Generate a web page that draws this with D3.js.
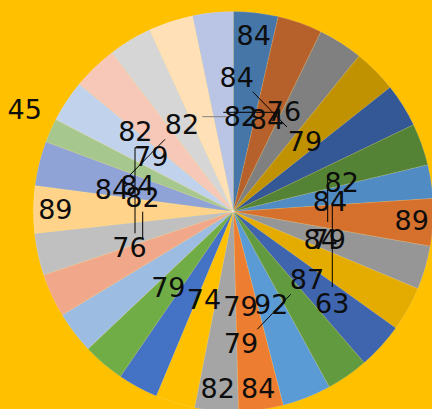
<!DOCTYPE html>
<html>
<head>
<meta charset="utf-8">
<script src="https://cdn.jsdelivr.net/npm/d3@7/dist/d3.min.js"></script>
<style>
  html, body { margin: 0; padding: 0; background: #FFC000; }
  svg { display: block; }
</style>
</head>
<body>
<div id="chart"></div>
<script>
// ---- data (slices clockwise from 12 o'clock) ----
const categories = d3.range(1, 30).map(i => "P" + i);
const values = [84, 84, 84, 82, 82, 79, 63, 89, 82, 84, 87, 79, 92, 84, 82, 74, 76, 79, 79, 82, 79, 89, 84, 45, 79, 84, 82, 84, 76];
const colors = [
  "#4676A8", "#B6612B", "#808080", "#C09100", "#335895", "#558335",
  "#508BC4", "#D6712D", "#969696", "#E4AB00", "#3E65AE", "#629A40",
  "#5B9BD5", "#ED7D31", "#A5A5A5", "#FFC000", "#4472C4", "#70AD47",
  "#9DBCE2", "#F1A88A", "#C0C0C0", "#FFD38A", "#8FA3D6", "#A6C78E",
  "#C1D2EC", "#F7C8B8", "#D6D6D6", "#FFE0B7", "#BAC5E5"
];

// ---- label layout ("best fit" placement seen in the reference), as offsets from the pie centre in radius units ----
const labelOffsets = [
  [0.1025, -0.884], [0.1685, -0.4625], [0.017, -0.674], [0.0375, -0.4775], [0.542, -0.149], [0.3585, -0.3525],
  [0.495, 0.4575], [0.892, 0.044], [-0.454, -0.074], [0.437, 0.1375], [0.3685, 0.3375], [0.477, 0.1375],
  [0.19, 0.4625], [0.125, 0.884], [-0.078, 0.884], [-0.1465, 0.4375], [-0.519, 0.18], [-0.325, 0.38],
  [0.036, 0.4725], [-0.49, -0.4015], [0.0385, 0.6575], [-0.89, -0.0135], [-0.6065, -0.1125], [-1.043, -0.514],
  [-0.4105, -0.275], [-0.479, -0.1325], [-0.2565, -0.435], [0.4835, -0.0525], [0.2535, -0.5025]
];
// leader lines, in the same radius units
const leaders = [
  { pts: [[0.097, -0.599], [0.2685, -0.4225]], color: "#000" },
  { pts: [[-0.05, -0.496], [0.225, -0.496]], color: "#000" },
  { pts: [[-0.155, -0.474], [-0.033, -0.474]], color: "#808080" },
  { pts: [[0.472, -0.1675], [0.472, 0.0525]], color: "#000" },
  { pts: [[0.495, -0.0325], [0.495, 0.3775]], color: "#000" },
  { pts: [[0.287, 0.414], [0.12, 0.589]], color: "#000" },
  { pts: [[-0.4465, -0.319], [-0.4915, -0.319], [-0.4915, 0.109]], color: "#000" },
  { pts: [[-0.453, 0.001], [-0.453, 0.139]], color: "#000" },
  { pts: [[-0.525, -0.174], [-0.3415, -0.361]], color: "#000" }
];

const W = 432, H = 409;
const cx = 233.3, cy = 211.5, R = 200;
const fontSize = 27;

const svg = d3.select("#chart").append("svg")
  .attr("width", W).attr("height", H);

svg.append("rect").attr("width", W).attr("height", H).attr("fill", "#FFC000");

const g = svg.append("g").attr("transform", `translate(${cx},${cy})`);

const data = categories.map((c, i) => ({ cat: c, value: values[i], color: colors[i], off: labelOffsets[i] }));

const pie = d3.pie().sort(null).value(d => d.value).startAngle(0).endAngle(2 * Math.PI);
const arc = d3.arc().innerRadius(0).outerRadius(R);

g.selectAll("path.slice").data(pie(data)).join("path")
  .attr("class", "slice")
  .attr("d", arc)
  .attr("fill", d => d.data.color)
  .attr("stroke", "rgba(255,255,255,0.25)")
  .attr("stroke-width", 0.5);

const pos = d3.scaleLinear().domain([0, 1]).range([0, R]);

const line = d3.line().x(p => pos(p[0])).y(p => pos(p[1]));
g.selectAll("path.leader").data(leaders).join("path")
  .attr("class", "leader")
  .attr("d", d => line(d.pts))
  .attr("fill", "none")
  .attr("stroke", d => d.color)
  .attr("stroke-width", 1);

g.selectAll("text.lbl").data(pie(data)).join("text")
  .attr("class", "lbl")
  .attr("x", d => pos(d.data.off[0]))
  .attr("y", d => pos(d.data.off[1]) + fontSize * 0.365)
  .attr("text-anchor", "middle")
  .attr("font-family", "DejaVu Sans, sans-serif")
  .attr("font-size", fontSize)
  .attr("fill", "#0D0D0D")
  .text(d => d.data.value);
</script>
</body>
</html>
